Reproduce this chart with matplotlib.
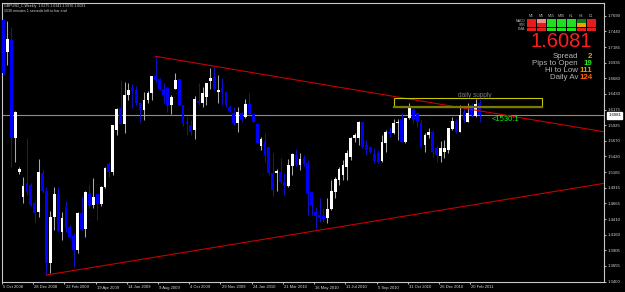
import matplotlib
matplotlib.use('Agg')
import matplotlib.pyplot as plt
from matplotlib.patches import Rectangle
from matplotlib.transforms import blended_transform_factory

plt.rcParams['font.family'] = ['Liberation Sans', 'DejaVu Sans']

# weekly GBPUSD candles (oldest first)
opens = [1.7621, 1.7109, 1.7298, 1.5713, 1.5165, 1.4771, 1.4990, 1.4960, 1.4674, 1.4529,
         1.5148, 1.4863, 1.3697, 1.4439, 1.4815, 1.4206, 1.4600, 1.4277, 1.4137, 1.3911,
         1.4503, 1.4245, 1.4835, 1.4637, 1.4815, 1.4653, 1.4932, 1.5298, 1.5174, 1.5847,
         1.6197, 1.5943, 1.6411, 1.6530, 1.6492, 1.6277, 1.6169, 1.6331, 1.6439, 1.6718,
         1.6664, 1.6503, 1.6519, 1.6250, 1.6503, 1.6668, 1.6250, 1.5981, 1.5927, 1.5847,
         1.6315, 1.6287, 1.6384, 1.6642, 1.6707, 1.6465, 1.6529, 1.6465, 1.6223, 1.6116,
         1.5955, 1.6116, 1.6061, 1.6266, 1.6105, 1.5939, 1.5589, 1.5658, 1.5577, 1.5148,
         1.5148, 1.5174, 1.5013, 1.4944, 1.5266, 1.5443, 1.5282, 1.5390, 1.5310, 1.4852,
         1.4529, 1.4476, 1.4460, 1.4423, 1.4568, 1.4852, 1.5040, 1.5121, 1.5255, 1.5406,
         1.5723, 1.5713, 1.5981, 1.5605, 1.5577, 1.5460, 1.5471, 1.5347, 1.5642, 1.5819,
         1.5793, 1.5955, 1.6019, 1.5658, 1.6035, 1.6180, 1.6116, 1.5955, 1.5605, 1.5766,
         1.5819, 1.5552, 1.5427, 1.5497, 1.5524, 1.5858, 1.5997, 1.5819, 1.6142, 1.5981,
         1.6250, 1.6073, 1.6275]
highs = [1.7621, 1.7610, 1.7513, 1.6160, 1.5255, 1.5093, 1.5713, 1.4992, 1.4718, 1.5374,
         1.5202, 1.4932, 1.4545, 1.4927, 1.4927, 1.4529, 1.4700, 1.4314, 1.4185, 1.4529,
         1.4771, 1.4863, 1.4960, 1.5068, 1.4815, 1.4944, 1.5250, 1.5335, 1.5927, 1.6197,
         1.6653, 1.6626, 1.6600, 1.6589, 1.6560, 1.6298, 1.6464, 1.6476, 1.6718, 1.7040,
         1.6685, 1.6610, 1.6545, 1.6411, 1.6761, 1.6668, 1.6250, 1.6061, 1.6008, 1.6395,
         1.6605, 1.6545, 1.6610, 1.6842, 1.6868, 1.6734, 1.6681, 1.6465, 1.6250, 1.6223,
         1.6223, 1.6142, 1.6342, 1.6448, 1.6105, 1.5955, 1.5739, 1.5803, 1.5577, 1.5471,
         1.5213, 1.5390, 1.5148, 1.5374, 1.5471, 1.5535, 1.5471, 1.5443, 1.5363, 1.4852,
         1.4610, 1.4745, 1.4589, 1.4745, 1.5040, 1.5094, 1.5245, 1.5363, 1.5524, 1.5739,
         1.5800, 1.5997, 1.5981, 1.5686, 1.5589, 1.5552, 1.5524, 1.5766, 1.5847, 1.5895,
         1.6019, 1.6019, 1.6116, 1.6035, 1.6287, 1.6180, 1.6142, 1.6008, 1.5793, 1.5874,
         1.5847, 1.5605, 1.5674, 1.5686, 1.5874, 1.6052, 1.6019, 1.6250, 1.6223, 1.6277,
         1.6277, 1.6342, 1.6341]
lows = [1.6734, 1.6895, 1.5255, 1.5335, 1.5137, 1.4674, 1.4798, 1.4621, 1.4352, 1.4448,
        1.4831, 1.3508, 1.3535, 1.4234, 1.4202, 1.4073, 1.4200, 1.4100, 1.3642, 1.3858,
        1.4234, 1.4116, 1.4584, 1.4584, 1.4395, 1.4621, 1.4911, 1.5094, 1.5121, 1.5766,
        1.5943, 1.5794, 1.6331, 1.6197, 1.6250, 1.5981, 1.6008, 1.6277, 1.6331, 1.6621,
        1.6492, 1.6277, 1.6142, 1.6105, 1.6503, 1.6250, 1.5911, 1.5766, 1.5766, 1.5697,
        1.6250, 1.6223, 1.6250, 1.6503, 1.6492, 1.6277, 1.6250, 1.6223, 1.6142, 1.5927,
        1.5819, 1.5981, 1.6035, 1.6089, 1.5981, 1.5632, 1.5524, 1.5335, 1.5121, 1.4782,
        1.4868, 1.4997, 1.4798, 1.4932, 1.5121, 1.5266, 1.5202, 1.5266, 1.4476, 1.4476,
        1.4234, 1.4368, 1.4363, 1.4342, 1.4556, 1.4745, 1.4960, 1.5040, 1.5040, 1.5363,
        1.5650, 1.5605, 1.5552, 1.5443, 1.5471, 1.5310, 1.5315, 1.5335, 1.5497, 1.5733,
        1.5782, 1.5686, 1.5658, 1.5632, 1.6019, 1.5965, 1.5900, 1.5552, 1.5497, 1.5713,
        1.5416, 1.5335, 1.5335, 1.5390, 1.5471, 1.5847, 1.5793, 1.5819, 1.5981, 1.5981,
        1.6061, 1.6061, 1.5976]
closes = [1.6766, 1.7310, 1.5713, 1.6142, 1.5218, 1.4948, 1.4850, 1.4637, 1.4503, 1.5165,
          1.4863, 1.3697, 1.4448, 1.4815, 1.4223, 1.4423, 1.4261, 1.4126, 1.3911, 1.4503,
          1.4245, 1.4852, 1.4637, 1.4771, 1.4653, 1.4932, 1.5239, 1.5169, 1.5927, 1.6185,
          1.5943, 1.6411, 1.6492, 1.6470, 1.6277, 1.6169, 1.6331, 1.6448, 1.6718, 1.6653,
          1.6503, 1.6411, 1.6250, 1.6384, 1.6653, 1.6250, 1.5955, 1.5960, 1.5819, 1.6342,
          1.6277, 1.6448, 1.6610, 1.6681, 1.6503, 1.6492, 1.6465, 1.6250, 1.6153, 1.5955,
          1.6142, 1.6008, 1.6266, 1.6105, 1.5981, 1.5642, 1.5697, 1.5443, 1.5148, 1.4879,
          1.5190, 1.5013, 1.4944, 1.5282, 1.5460, 1.5282, 1.5379, 1.5298, 1.4835, 1.4637,
          1.4460, 1.4423, 1.4406, 1.4568, 1.4868, 1.5057, 1.5213, 1.5282, 1.5471, 1.5723,
          1.5760, 1.5981, 1.5577, 1.5524, 1.5497, 1.5352, 1.5335, 1.5658, 1.5819, 1.5793,
          1.5955, 1.5981, 1.5658, 1.6035, 1.6197, 1.6008, 1.5981, 1.5577, 1.5766, 1.5819,
          1.5497, 1.5443, 1.5552, 1.5552, 1.5874, 1.5997, 1.5819, 1.6089, 1.6008, 1.6116,
          1.6089, 1.6266, 1.6081]

price_ticks = [1.3400, 1.3655, 1.3905, 1.4160, 1.4410, 1.4665, 1.4915, 1.5165, 1.5420,
               1.5670, 1.5925, 1.6175, 1.6430, 1.6680, 1.6935, 1.7185, 1.7440, 1.7690]
date_bars = [0, 8, 16, 24, 32, 40, 48, 56, 64, 72, 80, 88, 96, 104, 112, 120]
date_labels = ['5 Oct 2008', '28 Dec 2008', '22 Feb 2009', '19 Apr 2009', '14 Jun 2009',
               '9 Aug 2009', '4 Oct 2009', '29 Nov 2009', '24 Jan 2010', '21 Mar 2010',
               '16 May 2010', '11 Jul 2010', '5 Sep 2010', '31 Oct 2010', '26 Dec 2010',
               '20 Feb 2011']

bid = 1.6081
# trend lines: two anchor points each (bar, price)
upper_pts = [(39, 1.7035), (127.3, 1.6100)]
lower_pts = [(11, 1.3508), (152.9, 1.4976)]
supply_zone = (100, 138, 1.6223, 1.6358)   # bar from, bar to, low, high

# signal matrix on the right
tf_names = ['M1', 'M5', 'M15', 'M30', 'H1', 'H4', 'D1']
sig_rows = ['MACD', 'STR', 'EMA']
sig_colors = [['#e41c1c', '#f08a8a', '#1ee01e', '#1ee01e', '#1ee01e', '#0d7a0d', '#e41c1c'],
              ['#e41c1c', '#e41c1c', '#1ee01e', '#1ee01e', '#1ee01e', '#f0a000', '#e41c1c'],
              ['#e41c1c', '#e41c1c', '#1ee01e', '#1ee01e', '#1ee01e', '#e41c1c', '#e41c1c']]
info_names = ['Spread', 'Pips to Open', 'Hi to Low', 'Daily Av']
info_values = ['2', '19', '111', '124']
info_colors = ['#f09a00', '#20f020', '#f09a00', '#ff6010']

W, H = 625, 292
fig = plt.figure(figsize=(W / 100, H / 100), dpi=100, facecolor='black')


def fx(px):
    return px / W


def fy(py):
    return 1 - py / H


ax = fig.add_axes([fx(2), fy(281.7), (604 - 2) / W, (281.7 - 3) / H])
ax.set_facecolor('black')
px_bar = 3.907
ax.set_xlim(-0.7 / px_bar, (604 - 2.7) / px_bar)
ax.set_ylim(1.34, 1.34 + 278.7 / 620)

# bid line
ax.axhline(bid, color='#8c8c96', lw=0.8, zorder=1)

# candles
for i in range(len(opens)):
    o, h, l, c = opens[i], highs[i], lows[i], closes[i]
    up = c >= o
    wick = '#a8a8a8' if up else '#1010c0'
    body = '#ffffff' if up else '#0000ff'
    ax.vlines(i, l, h, color=wick, lw=0.75, zorder=2)
    ax.bar(i, max(abs(c - o), 0.0006), bottom=min(o, c), width=0.72,
           color=body, linewidth=0, zorder=3)

# trend lines, extended to the right edge
x_end = ax.get_xlim()[1]
for (x1, y1), (x2, y2) in [upper_pts, lower_pts]:
    slope = (y2 - y1) / (x2 - x1)
    ax.plot([x1, x_end], [y1, y1 + slope * (x_end - x1)], color='#c80000', lw=0.8, zorder=4)

# supply zone
b0, b1, lo, hi = supply_zone
ax.add_patch(Rectangle((b0, lo), b1 - b0, hi - lo, fill=False, edgecolor='#c8c800',
                       lw=0.8, zorder=4))
ax.plot([b0, b1], [lo, lo], color='#7a7a00', lw=1.6, zorder=4)
ax.text(116.5, 1.6411, 'daily supply', color='#7c7c7c', fontsize=4.7, va='center',
        ha='left', zorder=5)
ax.text(125, 1.6010, '<1530:1', color='#10f010', fontsize=5.5, va='center', ha='left',
        zorder=5)

# axes frame and ticks
for side in ['left', 'top', 'right', 'bottom']:
    ax.spines[side].set_color('#c8c8c8')
    ax.spines[side].set_linewidth(0.8)
ax.yaxis.tick_right()
ax.set_yticks(price_ticks)
ax.set_yticklabels([f'{p:.4f}' for p in price_ticks])
ax.tick_params(axis='y', colors='#d8d8d8', labelsize=3.1, length=1.6, width=0.6, pad=1)
ax.set_xticks([b - 0.4 for b in date_bars])
ax.set_xticklabels([])
ax.tick_params(axis='x', colors='#d8d8d8', length=1.6, width=0.6)
trans = blended_transform_factory(ax.transData, fig.transFigure)
for b, lab in zip(date_bars, date_labels):
    ax.text(b - 0.1, fy(287.5), lab, transform=trans, color='#d8d8d8', fontsize=3.0,
            ha='left', va='center', clip_on=False)

# bid price box on the axis
ax.annotate(f'{bid:.4f}', xy=(1.0, bid), xycoords=('axes fraction', 'data'),
            xytext=(3, 0), textcoords='offset points', fontsize=3.1, color='black',
            va='center', ha='left',
            bbox=dict(boxstyle='square,pad=0.25', fc='white', ec='white'))

# title lines
fig.text(fx(4), fy(5.7), 'GBPUSD_C,Weekly  1.6275 1.6341 1.5976 1.6081', color='#d8d8d8',
         fontsize=2.6, va='center', ha='left')
fig.text(fx(4), fy(10.7), '1530 minutes 1 seconds left to bar end', color='#d8d8d8',
         fontsize=2.6, va='center', ha='left')

# signal matrix
for j, name in enumerate(tf_names):
    fig.text(fx(531.3 + 10 * j), fy(15.7), name, color='#b4b4b4', fontsize=2.6,
             ha='center', va='center')
for r, row in enumerate(sig_rows):
    fig.text(fx(525.5), fy(20.7 + 4.35 * r), row, color='#b4b4b4', fontsize=2.4,
             ha='right', va='center')
    for j, col in enumerate(sig_colors[r]):
        fig.patches.append(Rectangle((fx(526.7 + 10 * j), fy(22.5 + 4.35 * r)),
                                     9.2 / W, 3.5 / H, transform=fig.transFigure,
                                     facecolor=col, edgecolor='none'))

# big price and info lines
fig.text(fx(592.5), fy(41.7), f'{bid:.4f}', color='#ff1e1e', fontsize=14.5,
         ha='right', va='center')
for k in range(len(info_names)):
    yy = fy(56.3 + 7.2 * k)
    fig.text(fx(578), yy, info_names[k], color='#b4b4b4', fontsize=5.7,
             ha='right', va='center')
    fig.text(fx(592.5), yy, info_values[k], color=info_colors[k], fontsize=5.7,
             ha='right', va='center', fontweight='bold')

fig.savefig('out.png', dpi=100, facecolor='black')
